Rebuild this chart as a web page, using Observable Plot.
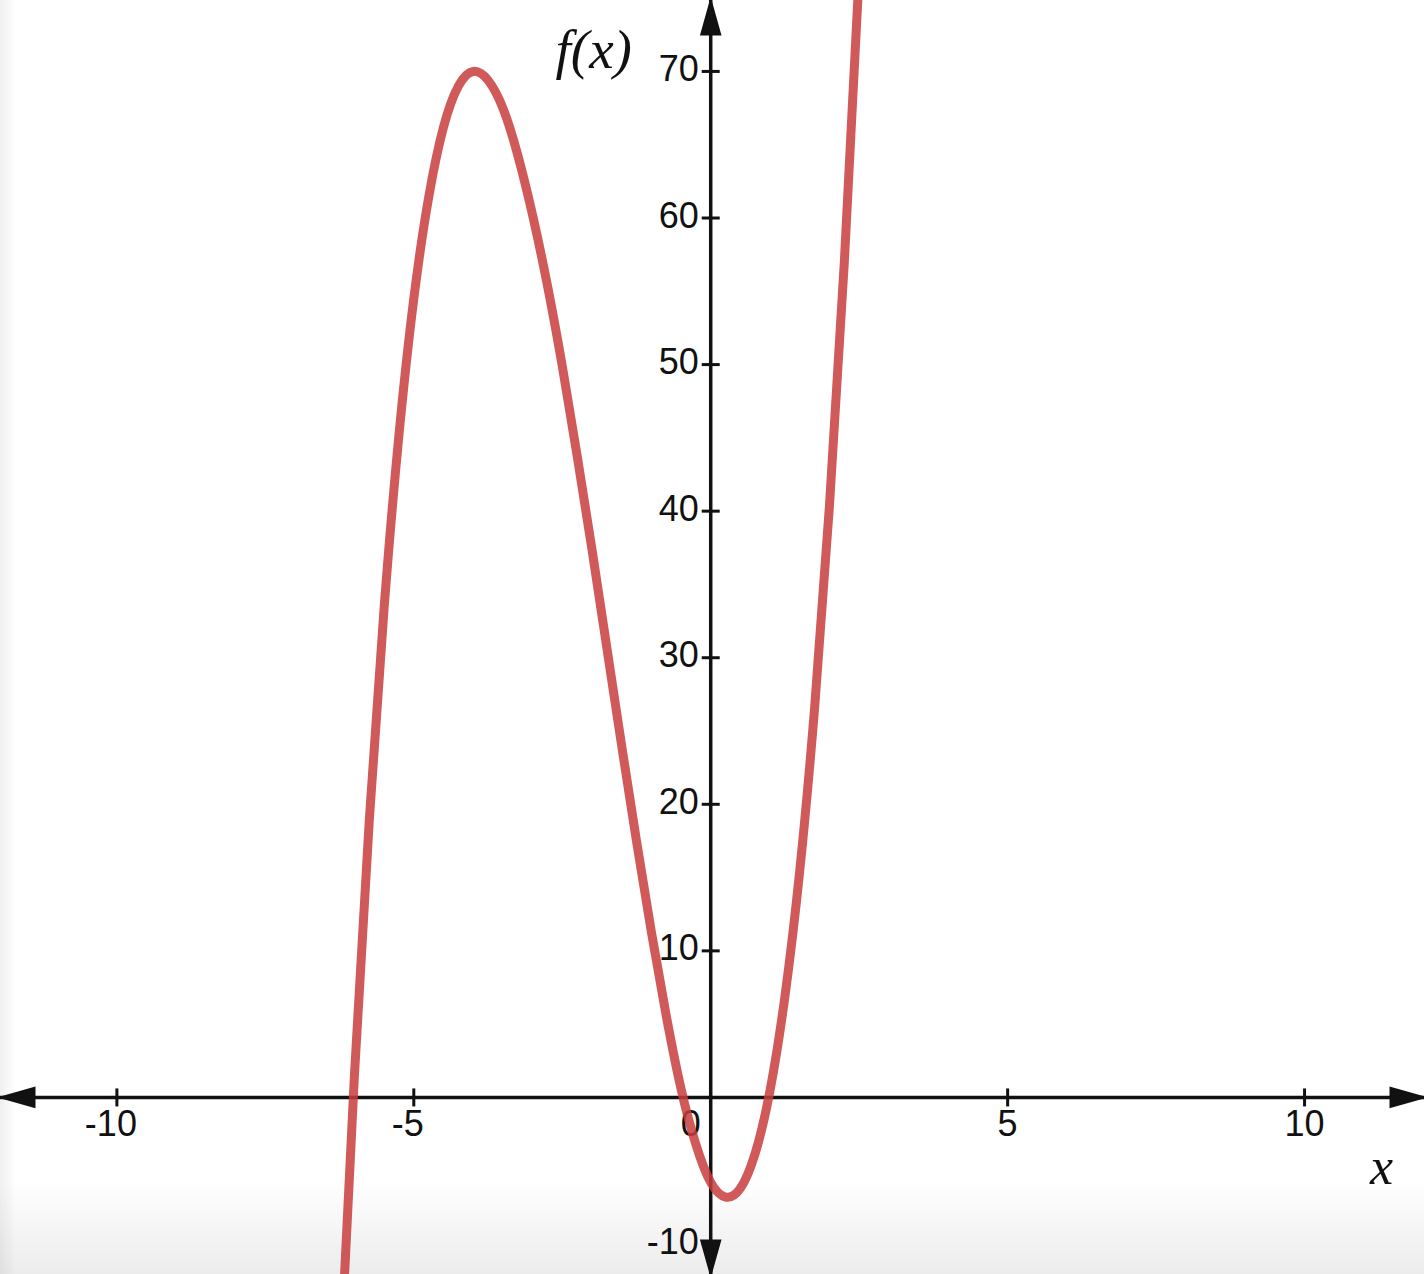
<!DOCTYPE html>
<html>
<head>
<meta charset="utf-8">
<script src="https://cdn.jsdelivr.net/npm/d3@7"></script>
<script src="https://cdn.jsdelivr.net/npm/@observablehq/plot@0.6"></script>
<style>
  html, body { margin: 0; padding: 0; overflow: hidden; }
  body {
    width: 1424px; height: 1274px;
    background:
      linear-gradient(to right, rgba(0,0,0,0.06), rgba(0,0,0,0) 16px),
      linear-gradient(to bottom, #ffffff 0px, #ffffff 1180px, #ececec 1274px);
  }
  #chart svg { display: block; }
</style>
</head>
<body>
<div id="chart"></div>
<script>
const curveX = [-6.25, -6.0, -5.75, -5.5, -5.25, -5.0, -4.75, -4.5, -4.25, -4.0, -3.75, -3.5, -3.25, -3.0, -2.75, -2.5, -2.25, -2.0, -1.75, -1.5, -1.25, -1.0, -0.75, -0.5, -0.25, 0, 0.25, 0.5, 0.75, 1.0, 1.25, 1.5, 1.75, 2.0, 2.25, 2.5];
const curveY = [-19.0, 1.5, 18.9, 33.4, 45.2, 54.5, 61.4, 66.2, 69.0, 70.0, 69.4, 67.5, 64.3, 60.2, 55.4, 49.9, 43.8, 37.4, 30.7, 24.0, 17.5, 11.3, 5.6, 0.6, -3.2, -5.8, -6.8, -6.2, -3.8, 0.5, 6.9, 15.5, 26.6, 40.4, 57.0, 76.7];

const xDomain = [-11.96, 12.02];
const yDomain = [-12.08, 74.84];
const xTicks = [-10, -5, 5, 10];
const xTickLabels = [-10, -5, 0, 5, 10];
const yTicks = [-10, 10, 20, 30, 40, 50, 60, 70];
const xAxisLabel = "x";
const yAxisLabel = "f(x)";

const curve = curveX.map((x, i) => ({x, y: curveY[i]}));

// custom symbols (pixel geometry)
const vtick = {draw(c) { c.moveTo(0, -9); c.lineTo(0, 9); }};
const htick = {draw(c) { c.moveTo(-9, 0); c.lineTo(9, 0); }};
const L = 34, W = 9.5;
const arrowLeft  = {draw(c) { c.moveTo(0, 0); c.lineTo(L, -W); c.lineTo(L, W); c.closePath(); }};
const arrowRight = {draw(c) { c.moveTo(0, 0); c.lineTo(-L, -W); c.lineTo(-L, W); c.closePath(); }};
const arrowUp    = {draw(c) { c.moveTo(0, 0); c.lineTo(-W, L); c.lineTo(W, L); c.closePath(); }};
const arrowDown  = {draw(c) { c.moveTo(0, 0); c.lineTo(-W, -L); c.lineTo(W, -L); c.closePath(); }};

const ink = "#111";
const sans = "Liberation Sans, Arial, Helvetica, sans-serif";
const serif = "Liberation Serif, Times New Roman, serif";

const chart = Plot.plot({
  width: 1424,
  height: 1274,
  margin: 0,
  style: {background: "transparent", overflow: "visible"},
  x: {domain: xDomain, axis: null},
  y: {domain: yDomain, axis: null},
  marks: [
    // axes
    Plot.ruleY([0], {stroke: ink, strokeWidth: 3.5}),
    Plot.ruleX([0], {stroke: ink, strokeWidth: 3.5}),
    // ticks
    Plot.dot(xTicks, {x: d => d, y: () => 0, symbol: vtick, stroke: ink, strokeWidth: 3, fill: "none", r: 5}),
    Plot.dot(yTicks, {x: () => 0, y: d => d, symbol: htick, stroke: ink, strokeWidth: 3, fill: "none", r: 5}),
    // arrowheads
    Plot.dot([xDomain[0]], {x: d => d, y: () => 0, symbol: arrowLeft, fill: ink, stroke: ink, strokeWidth: 2, r: 5}),
    Plot.dot([xDomain[1]], {x: d => d, y: () => 0, symbol: arrowRight, fill: ink, stroke: ink, strokeWidth: 2, r: 5}),
    Plot.dot([yDomain[1]], {x: () => 0, y: d => d, symbol: arrowUp, fill: ink, stroke: ink, strokeWidth: 2, r: 5}),
    Plot.dot([yDomain[0]], {x: () => 0, y: d => d, symbol: arrowDown, fill: ink, stroke: ink, strokeWidth: 2, r: 5}),
    // tick labels
    Plot.text(xTickLabels.filter(d => d < 0), {x: d => d, y: () => 0, text: d => String(d), dy: 27, dx: -6, fontSize: 36, fontFamily: sans, fill: ink}),
    Plot.text(xTickLabels.filter(d => d === 0), {x: d => d, y: () => 0, text: d => String(d), dy: 27, dx: -20, fontSize: 36, fontFamily: sans, fill: ink}),
    Plot.text(xTickLabels.filter(d => d > 0), {x: d => d, y: () => 0, text: d => String(d), dy: 27, fontSize: 36, fontFamily: sans, fill: ink}),
    Plot.text(yTicks, {x: () => 0, y: d => d, text: d => String(d), textAnchor: "end", dx: -12, dy: -2, fontSize: 36, fontFamily: sans, fill: ink}),
    // axis titles
    Plot.text([yAxisLabel], {x: () => 0, y: () => yDomain[1], text: d => d, dx: -117, dy: 50, fontSize: 55, fontStyle: "italic", fontFamily: serif, fill: ink}),
    Plot.text([xAxisLabel], {x: () => xDomain[1], y: () => 0, text: d => d, dx: -43, dy: 70, fontSize: 52, fontStyle: "italic", fontFamily: serif, fill: ink}),
    // the function
    Plot.line(curve, {x: "x", y: "y", curve: "natural", stroke: "#c83c3c", strokeOpacity: 0.85, strokeWidth: 9, strokeLinecap: "round", clip: true})
  ]
});
document.getElementById("chart").append(chart);
</script>
</body>
</html>
